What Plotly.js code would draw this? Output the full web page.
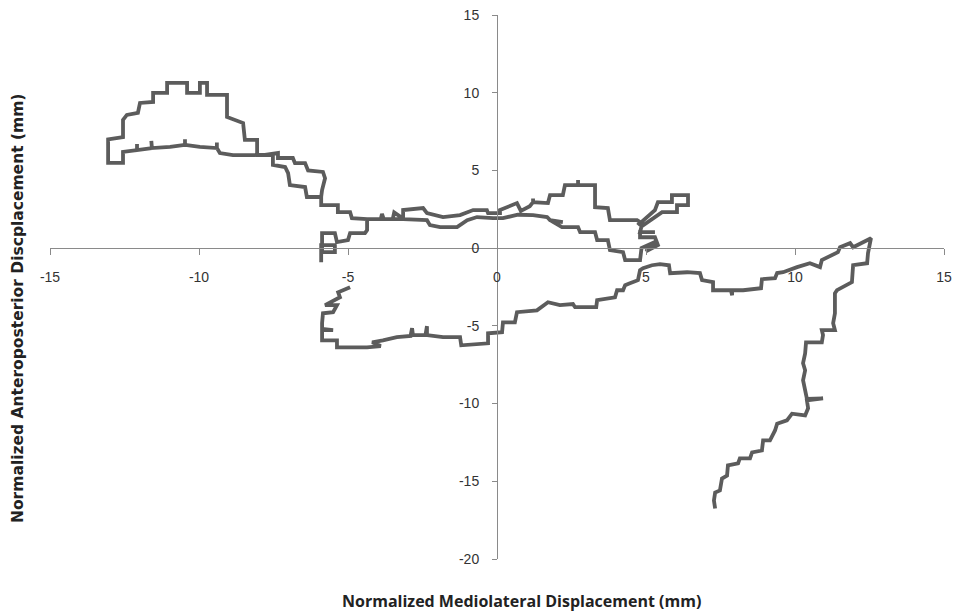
<!DOCTYPE html>
<html>
<head>
<meta charset="utf-8">
<script src="https://cdn.plot.ly/plotly-3.0.1.min.js"></script>
<style>html,body{margin:0;padding:0;background:#fff;}#chart{width:958px;height:611px;}</style>
</head>
<body>
<div id="chart"></div>
<script>
// Piece 1: from the bottom end, up the right side, across the lower right, around the lower loop
var pathAX = [7.32,7.28,7.32,7.48,7.55,7.72,7.75,8.09,8.15,8.49,8.56,8.89,8.93,9.16,9.33,9.40,9.73,9.90,10.34,10.44,10.40,10.94,10.40,10.34,10.27,10.34,10.27,10.34,10.37,10.90,10.94,10.90,11.34,11.28,11.34,11.34,11.41,11.91,11.95,12.42,12.45,12.55,11.95,11.85,11.51,11.44,11.07,10.90,10.84,10.50,10.07,9.60,9.40,9.33,8.89,8.86,8.26,7.89,7.89,7.85,7.25,7.25,6.88,6.81,6.38,5.81,5.77,5.47,5.20,4.90,4.80,4.73,4.46,4.30,4.23,4.03,3.96,3.79,3.36,3.33,2.62,2.55,2.11,1.71,1.34,0.67,0.60,0.20,0.17,-0.30,-0.30,-1.20,-1.24,-1.81,-2.35,-2.35,-2.40,-2.82,-2.85,-2.90,-3.36,-3.83,-4.19,-3.90,-4.36,-5.37,-5.37,-5.87,-5.87,-5.50,-5.87,-5.87,-5.84,-5.50,-5.37,-5.77,-5.27,-5.33,-4.93];
var pathAY = [-16.75,-16.24,-15.72,-15.59,-14.82,-14.63,-13.98,-13.85,-13.53,-13.53,-13.14,-13.02,-12.37,-12.37,-11.73,-11.30,-11.08,-10.65,-10.76,-10.30,-9.80,-9.66,-9.70,-9.15,-8.50,-7.86,-7.40,-6.77,-6.06,-6.06,-5.60,-5.28,-5.28,-4.83,-4.19,-2.90,-2.70,-2.19,-1.10,-0.97,-0.32,0.64,0.06,0.32,0.06,-0.26,-0.58,-0.77,-1.22,-0.97,-1.22,-1.55,-1.60,-1.93,-2.00,-2.58,-2.71,-2.71,-3.03,-2.71,-2.71,-2.19,-2.06,-1.61,-1.55,-1.61,-1.10,-1.03,-1.10,-1.29,-1.42,-2.06,-2.26,-2.38,-2.71,-2.71,-3.16,-3.22,-3.35,-3.80,-3.80,-3.60,-3.67,-3.48,-4.00,-4.12,-4.77,-4.77,-5.41,-5.48,-6.12,-6.25,-5.73,-5.73,-5.60,-5.02,-5.60,-5.60,-5.15,-5.65,-5.73,-5.93,-6.06,-6.30,-6.38,-6.38,-5.93,-5.93,-5.28,-5.28,-5.20,-4.83,-4.19,-4.12,-3.67,-3.67,-3.16,-2.84,-2.51];

// Piece 2: from the dangling end near (-6,-1), through the middle band, the right loops, and the upper-left loop
var pathBX = [-5.90,-5.90,-5.44,-5.44,-5.87,-5.87,-5.44,-5.37,-5.00,-4.93,-4.43,-4.36,-4.36,-3.90,-3.86,-3.80,-3.50,-3.45,-3.15,-3.15,-2.48,-2.35,-1.81,-1.24,-0.80,-0.34,-0.30,0.10,0.10,0.67,0.80,1.10,1.21,1.21,1.21,1.71,1.78,2.21,2.28,2.72,2.72,2.72,3.29,3.29,3.72,3.79,4.70,4.80,4.73,5.30,5.40,5.87,5.87,6.41,6.41,6.04,6.04,5.54,4.85,4.80,5.30,4.80,4.80,5.30,5.40,5.00,5.30,4.85,4.80,4.73,4.30,4.23,3.79,3.72,3.36,3.29,2.79,2.72,2.18,1.78,2.21,1.78,1.68,1.21,0.70,0.20,-0.13,-0.67,-1.00,-1.34,-1.91,-2.25,-2.35,-3.15,-4.36,-4.87,-4.93,-5.34,-5.34,-5.90,-5.90,-5.87,-5.77,-5.84,-6.34,-6.44,-6.78,-6.85,-7.35,-7.35,-7.79,-8.05,-8.86,-9.30,-9.40,-9.40,-9.40,-9.97,-10.47,-10.47,-10.47,-10.97,-11.58,-11.60,-11.58,-12.08,-12.08,-12.08,-12.55,-12.55,-13.05,-13.05,-12.55,-12.55,-12.42,-12.05,-11.98,-11.54,-11.54,-11.07,-11.07,-10.40,-10.40,-9.97,-9.97,-9.73,-9.73,-9.06,-9.06,-8.52,-8.46,-8.05,-8.05,-7.52,-7.52,-7.11,-7.01,-6.95,-6.44,-6.38,-5.87];
var pathBY = [-0.90,0.19,0.19,-0.26,-0.26,0.97,0.97,0.39,0.52,0.97,0.97,1.16,1.87,1.87,2.20,1.87,1.87,2.30,1.90,2.45,2.58,2.25,2.00,2.13,2.45,2.45,2.25,2.25,2.45,2.90,2.40,2.70,2.96,3.20,2.96,2.90,3.41,3.41,4.06,4.06,4.38,4.06,4.06,2.64,2.58,1.80,1.80,1.68,1.48,2.45,2.96,2.96,3.41,3.41,2.77,2.77,2.32,2.32,1.40,1.03,1.03,1.03,0.70,0.70,0.20,-0.20,0.40,0.00,-0.77,-0.77,-0.77,-0.26,-0.13,0.52,0.52,1.03,1.03,1.35,1.35,1.80,1.68,1.80,2.00,2.13,2.15,1.93,1.93,2.00,1.80,1.35,1.35,1.48,1.80,1.87,1.87,1.93,2.32,2.32,2.77,2.77,3.30,3.74,4.50,4.90,5.00,5.47,5.47,5.80,5.80,6.12,6.00,5.99,5.99,6.12,6.44,6.80,6.44,6.51,6.64,7.00,6.64,6.51,6.44,6.90,6.44,6.31,6.70,6.31,6.19,5.48,5.48,7.00,7.15,8.25,8.57,8.70,9.34,9.41,9.99,9.99,10.63,10.63,9.99,9.99,10.63,10.63,9.86,9.86,8.44,8.05,6.96,6.96,5.99,5.99,5.35,5.22,4.83,4.06,3.93,3.29,3.29];

var xTickVals = [-15,-10,-5,0,5,10,15];
var yTickVals = [-20,-15,-10,-5,0,5,10,15];
var xTitleText = 'Normalized Mediolateral Displacement (mm)';
var yTitleText = 'Normalized Anteroposterior Discplacement (mm)';

var lineStyle = {color:'#5c5c5c', width:3.8};
var traces = [
  {x:pathAX, y:pathAY, mode:'lines', type:'scatter', line:lineStyle, hoverinfo:'skip', showlegend:false},
  {x:pathBX, y:pathBY, mode:'lines', type:'scatter', line:lineStyle, hoverinfo:'skip', showlegend:false}
];

var tickFont = {family:'Liberation Sans, Arial, sans-serif', size:14, color:'#333333'};
var layout = {
  width:958, height:611,
  margin:{l:50, r:14, t:15, b:52},
  paper_bgcolor:'#fff', plot_bgcolor:'#fff',
  showlegend:false,
  xaxis:{range:[-15,15], tickvals:xTickVals, ticktext:xTickVals.map(String),
    showgrid:false, zeroline:false, showline:true, linecolor:'#8a8a8a', linewidth:1,
    ticks:'outside', ticklen:6, tickcolor:'#8a8a8a', tickwidth:1,
    anchor:'free', position:20/35, tickfont:tickFont, ticklabelstandoff:10, fixedrange:true},
  yaxis:{range:[-20,15], tickvals:yTickVals, ticktext:yTickVals.map(String),
    showgrid:false, zeroline:false, showline:true, linecolor:'#8a8a8a', linewidth:1,
    ticks:'outside', ticklen:5, tickcolor:'#8a8a8a', tickwidth:1,
    anchor:'free', position:0.5, tickfont:tickFont, ticklabelstandoff:10, fixedrange:true},
  annotations:[
    {text:xTitleText, xref:'paper', yref:'paper', x:(521-50)/894, y:0, xanchor:'center', yanchor:'middle',
     yshift:-42, showarrow:false, font:{family:'Open Sans, sans-serif', size:16, color:'#222', weight:'bold'}},
    {text:yTitleText, xref:'paper', yref:'paper', x:0, y:(559-309)/544, xanchor:'center', yanchor:'middle',
     xshift:-32, textangle:-90, showarrow:false, font:{family:'DejaVu Sans, sans-serif', size:15.5, color:'#222', weight:'bold'}}
  ]
};
Plotly.newPlot('chart', traces, layout, {staticPlot:true, displayModeBar:false});
</script>
</body>
</html>
